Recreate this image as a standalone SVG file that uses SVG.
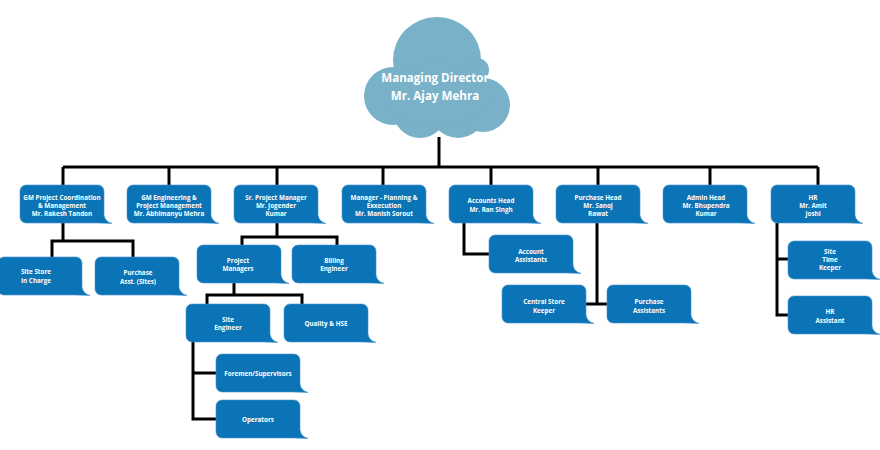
<svg xmlns="http://www.w3.org/2000/svg" xmlns:xlink="http://www.w3.org/1999/xlink" width="880" height="450" viewBox="0 0 880 450">
<style>
.bx{fill:#0A74B6;stroke:#4A96CC;stroke-width:0.6}
.t{font-family:"Open Sans","Liberation Sans",sans-serif;font-weight:bold;font-size:6.3px;fill:#ffffff;text-anchor:middle}
.ct{font-family:"Open Sans","Liberation Sans",sans-serif;font-weight:bold;font-size:11.6px;fill:#ffffff;text-anchor:middle}
.ln{fill:none;stroke:#000000;stroke-width:3}
.cl{fill:#79B1C8}
</style>
<defs>
<path id="b" d="M6,0 H78 A6,6 0 0 1 84,6 V30 Q85,36.8 92,38.4 L77,38 H6 A6,6 0 0 1 0,32 V6 A6,6 0 0 1 6,0 Z"/>
</defs>
<rect width="880" height="450" fill="#ffffff"/>
<g id="connectors">
<path class="ln" d="M439,137 V167 M63,167 H818 M63,167 V185 M169,167 V185 M277,167 V185 M383,167 V185 M491,167 V185 M598,167 V185 M710,167 V185 M818,167 V185"/>
<path class="ln" d="M63,223 V241 M52,257 V241 H133 V257"/>
<path class="ln" d="M277,223 V237 M242,245 V237 H337 V245"/>
<path class="ln" d="M234,283 V295 M207,304 V295 H302 V304"/>
<path class="ln" d="M193,342 V419 H216 M193,373 H216"/>
<path class="ln" d="M464,223 V254 H489"/>
<path class="ln" d="M597,223 V304 M586,304 H607"/>
<path class="ln" d="M777,223 V315 H788 M777,259 H788"/>
</g>
<g id="md">
<ellipse class="cl" cx="437" cy="60" rx="44" ry="43"/>
<circle class="cl" cx="477" cy="70" r="12"/>
<circle class="cl" cx="393" cy="96" r="29"/>
<circle class="cl" cx="420" cy="111" r="27"/>
<circle class="cl" cx="458" cy="110" r="28"/>
<circle class="cl" cx="483" cy="105" r="27"/>
<ellipse class="cl" cx="437" cy="95" rx="52" ry="32"/>
<text class="ct" x="435" y="82">Managing Director</text>
<text class="ct" x="435" y="100">Mr. Ajay Mehra</text>
</g>
<g id="gm1"><use href="#b" class="bx" x="20" y="185"/><text class="t" x="62" y="199.5">GM Project Coordination</text><text class="t" x="62" y="207.5">&amp; Management</text><text class="t" x="62" y="215.5">Mr. Rakesh Tandon</text></g>
<g id="gm2"><use href="#b" class="bx" x="127" y="185"/><text class="t" x="169" y="199.5">GM Engineering &amp;</text><text class="t" x="169" y="207.5">Project Management</text><text class="t" x="169" y="215.5">Mr. Abhimanyu Mehra</text></g>
<g id="spm"><use href="#b" class="bx" x="234" y="185"/><text class="t" x="276" y="199.5">Sr. Project Manager</text><text class="t" x="276" y="207.5">Mr. Jogender</text><text class="t" x="276" y="215.5">Kumar</text></g>
<g id="mpe"><use href="#b" class="bx" x="342" y="185"/><text class="t" x="384" y="199.5">Manager - Planning &amp;</text><text class="t" x="384" y="207.5">Exxecution</text><text class="t" x="384" y="215.5">Mr. Manish Sorout</text></g>
<g id="acc"><use href="#b" class="bx" x="449" y="185"/><text class="t" x="491" y="203">Accounts Head</text><text class="t" x="491" y="211.5">Mr. Ran Singh</text></g>
<g id="pur"><use href="#b" class="bx" x="556" y="185"/><text class="t" x="598" y="199.5">Purchase Head</text><text class="t" x="598" y="207.5">Mr. Sanoj</text><text class="t" x="598" y="215.5">Rawat</text></g>
<g id="adm"><use href="#b" class="bx" x="663" y="185"/><text class="t" x="706" y="199.5">Admin Head</text><text class="t" x="706" y="207.5">Mr. Bhupendra</text><text class="t" x="706" y="215.5">Kumar</text></g>
<g id="hr"><use href="#b" class="bx" x="771" y="185"/><text class="t" x="813" y="199.5">HR</text><text class="t" x="813" y="207.5">Mr. Amit</text><text class="t" x="813" y="215.5">Joshi</text></g>
<g id="ssi"><use href="#b" class="bx" x="-2" y="257"/><text class="t" x="36" y="274">Site Store</text><text class="t" x="36" y="282.5">In Charge</text></g>
<g id="pas"><use href="#b" class="bx" x="95" y="257"/><text class="t" x="138" y="275">Purchase</text><text class="t" x="138" y="283.5">Asst. (Sites)</text></g>
<g id="pm"><use href="#b" class="bx" x="197" y="245"/><text class="t" x="238" y="262.5">Project</text><text class="t" x="238" y="271">Managers</text></g>
<g id="be"><use href="#b" class="bx" x="292" y="245"/><text class="t" x="334" y="262.5">Billing</text><text class="t" x="334" y="271">Engineer</text></g>
<g id="se"><use href="#b" class="bx" x="186" y="304"/><text class="t" x="228" y="321.5">Site</text><text class="t" x="228" y="330">Engineer</text></g>
<g id="qhse"><use href="#b" class="bx" x="284" y="304"/><text class="t" x="326" y="326">Quality &amp; HSE</text></g>
<g id="fs"><use href="#b" class="bx" x="216" y="354"/><text class="t" x="258" y="375.5">Foremen/Supervisors</text></g>
<g id="op"><use href="#b" class="bx" x="216" y="400"/><text class="t" x="258" y="421.5">Operators</text></g>
<g id="aa"><use href="#b" class="bx" x="489" y="235"/><text class="t" x="531" y="253.5">Account</text><text class="t" x="531" y="262">Assistants</text></g>
<g id="csk"><use href="#b" class="bx" x="502" y="285"/><text class="t" x="544" y="304">Central Store</text><text class="t" x="544" y="312.5">Keeper</text></g>
<g id="pa"><use href="#b" class="bx" x="607" y="285"/><text class="t" x="649" y="304">Purchase</text><text class="t" x="649" y="312.5">Assistants</text></g>
<g id="stk"><use href="#b" class="bx" x="788" y="241"/><text class="t" x="830" y="253.5">Site</text><text class="t" x="830" y="261.5">Time</text><text class="t" x="830" y="270">Keeper</text></g>
<g id="hra"><use href="#b" class="bx" x="788" y="296"/><text class="t" x="830" y="314">HR</text><text class="t" x="830" y="322.5">Assistant</text></g>
</svg>
